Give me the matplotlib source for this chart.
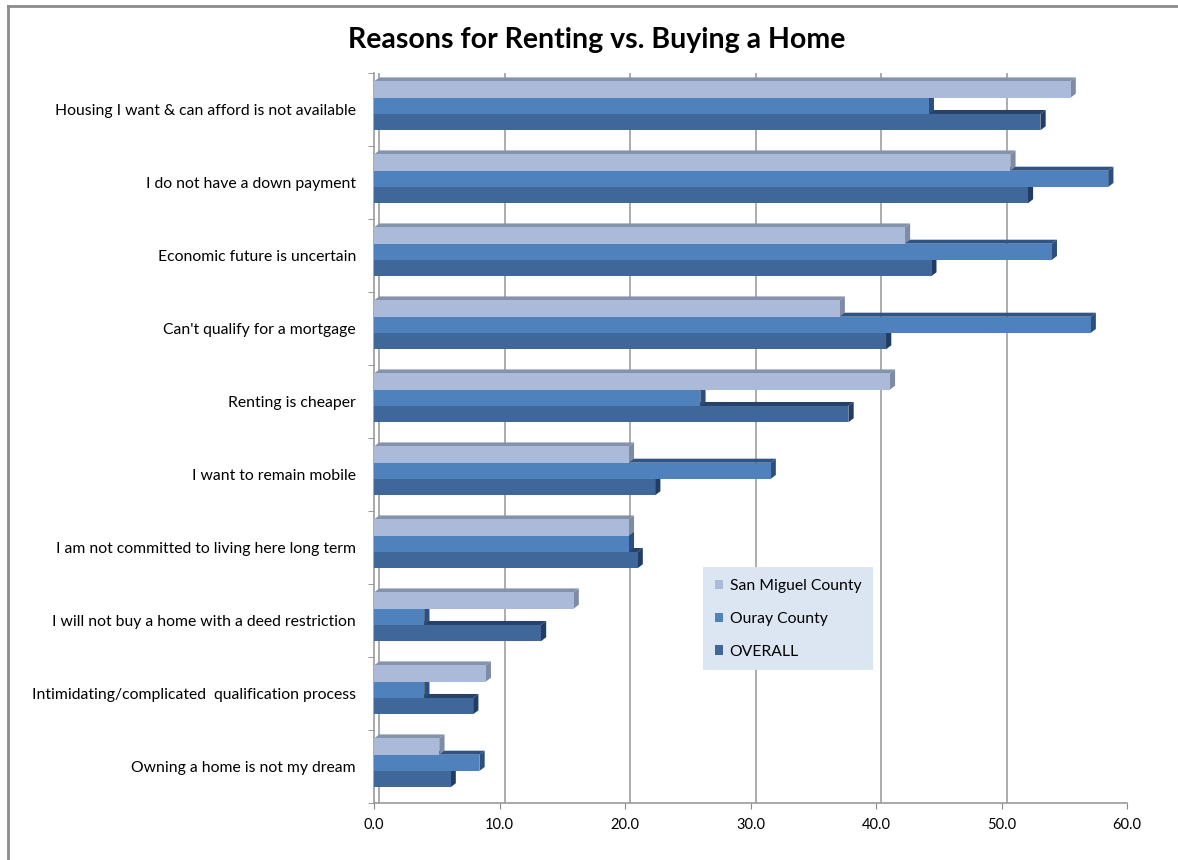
import matplotlib.pyplot as plt
import numpy as np
from matplotlib.patches import Polygon, Patch
from matplotlib.lines import Line2D

plt.rcParams['font.family'] = ['Lato', 'DejaVu Sans']

categories = [
    "Housing I want & can afford is not available",
    "I do not have a down payment",
    "Economic future is uncertain",
    "Can't qualify for a mortgage",
    "Renting is cheaper",
    "I want to remain mobile",
    "I am not committed to living here long term",
    "I will not buy a home with a deed restriction",
    "Intimidating/complicated  qualification process",
    "Owning a home is not my dream",
]
san_miguel = [55.5, 50.7, 42.3, 37.1, 41.1, 20.3, 20.3, 15.9, 8.9, 5.2]
ouray = [44.2, 58.5, 54.0, 57.1, 26.0, 31.6, 20.3, 4.0, 4.0, 8.4]
overall = [53.1, 52.1, 44.4, 40.8, 37.8, 22.4, 21.0, 13.3, 7.9, 6.1]

series_names = ["San Miguel County", "Ouray County", "OVERALL"]
front_colors = ["#abbad8", "#4f81bd", "#3f6799"]
top_colors = ["#8493ab", "#2f5382", "#26426a"]
side_colors = ["#7d8ba4", "#2c4f7d", "#223d63"]

fig = plt.figure(figsize=(11.78, 8.6), dpi=100)
ax = fig.add_axes([374 / 1178, 1 - 803 / 860, 753 / 1178, 730 / 860])

y = np.arange(len(categories))
h = 0.223
shift = -0.05
dx, dy = 0.42, 0.055

# draw the bottom bar of each group first so the upper ones cover its top face
all_vals = [san_miguel, ouray, overall]
for k in [2, 1, 0]:
    vals = np.array(all_vals[k])
    centers = y + shift + (k - 1) * h
    z = 3 + (2 - k) * 2
    for c, v in zip(centers, vals):
        top, bot = c - h / 2, c + h / 2
        ax.add_patch(Polygon([(0, top), (v, top), (v + dx, top - dy), (dx, top - dy)],
                             closed=True, facecolor=top_colors[k], edgecolor='none', zorder=z))
        ax.add_patch(Polygon([(v, top), (v + dx, top - dy), (v + dx, bot - dy), (v, bot)],
                             closed=True, facecolor=side_colors[k], edgecolor='none', zorder=z))
    ax.barh(centers, vals, height=h, color=front_colors[k], edgecolor='none', zorder=z + 1)

# back wall gridlines
xt = np.arange(0, 61, 10)
ax.vlines(xt + dx, -0.5, 9.5, colors='#a6a6a6', linewidth=1.3, zorder=1)

ax.set_xlim(0, 60)
ax.set_ylim(9.5, -0.5)
ax.set_xticks(xt)
ax.set_xticklabels([f"{v:.1f}" for v in xt])
ax.set_yticks(y)
ax.set_yticklabels(categories)
ax.set_yticks(np.arange(-0.5, 10, 1), minor=True)
ax.tick_params(axis='y', which='major', length=0, pad=13, labelsize=11.3)
ax.tick_params(axis='y', which='minor', length=4, color='#888888', direction='out')
ax.tick_params(axis='x', length=4, color='#888888', pad=7, labelsize=10.5)
for s in ['top', 'right']:
    ax.spines[s].set_visible(False)
for s in ['left', 'bottom']:
    ax.spines[s].set_color('#999999')
    ax.spines[s].set_linewidth(1.2)

handles = [Patch(facecolor=c, edgecolor='none') for c in front_colors]
leg = ax.legend(handles, series_names, loc='upper left', bbox_to_anchor=(0.437, 0.323),
                fontsize=11.3, frameon=True, fancybox=False, facecolor='#dce6f2',
                edgecolor='none', framealpha=1, handlelength=0.55, handleheight=0.55,
                handletextpad=0.4, labelspacing=1.2, borderpad=0.75, borderaxespad=0)
leg.set_zorder(20)

fig.text(597 / 1178, 1 - 40 / 860, "Reasons for Renting vs. Buying a Home",
         ha='center', va='center', fontsize=20.5, fontweight='bold')

fig.add_artist(Line2D([8 / 1178, 8 / 1178], [0, 1 - 6 / 860], color='#8c8c8c', linewidth=2))
fig.add_artist(Line2D([8 / 1178, 1], [1 - 6 / 860, 1 - 6 / 860], color='#8c8c8c', linewidth=2))

fig.savefig("out.png", dpi=100)
